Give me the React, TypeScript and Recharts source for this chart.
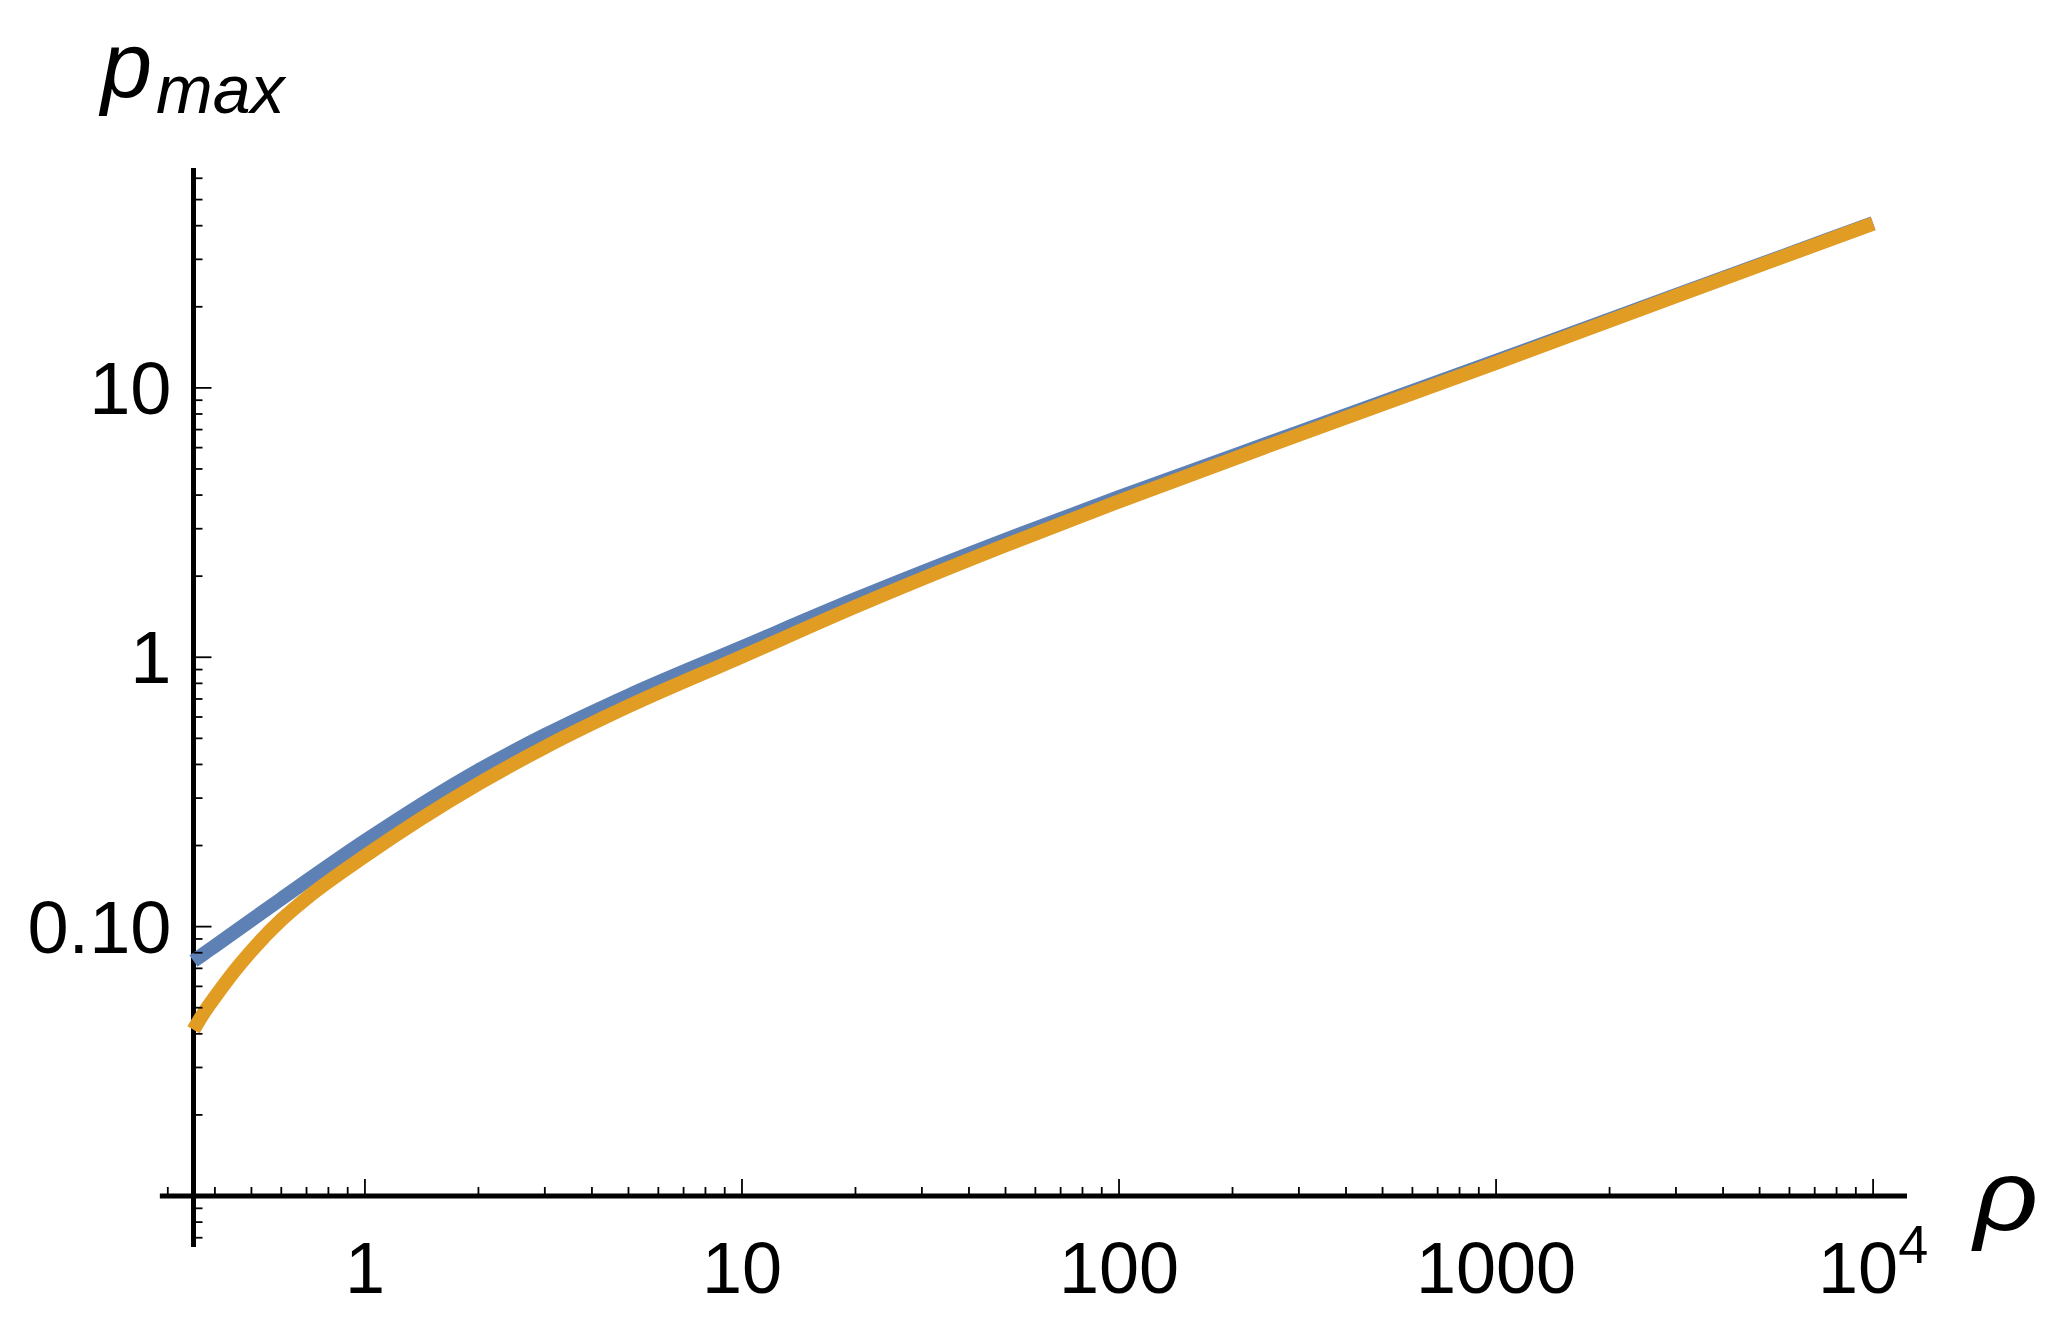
import { LineChart, Line, XAxis, YAxis, ReferenceLine } from "recharts";

// rho values (log axis) and the two p_max curves
const rhoValues = [0.351, 0.37, 0.4, 0.45, 0.5, 0.6, 0.7, 1, 2, 3, 5, 10, 20, 50, 100, 300, 1000, 3000, 10000];
const blueValues = [0.0745, 0.0785, 0.0848, 0.0953, 0.1058, 0.1268, 0.1476, 0.208, 0.3805, 0.514, 0.721, 1.09, 1.644, 2.73, 3.93, 6.85, 12.6, 22.1, 40.9];
const orangeValues = [0.0414, 0.0468, 0.0547, 0.0682, 0.0813, 0.1059, 0.1274, 0.1828, 0.339, 0.4634, 0.658, 1.006, 1.542, 2.606, 3.79, 6.7, 12.39, 21.9, 40.7];

// ticks
const xMajor = [1, 10, 100, 1000, 10000];
const xMinor = [0.3, 0.4, 0.5, 0.6, 0.7, 0.8, 0.9, 2, 3, 4, 5, 6, 7, 8, 9, 20, 30, 40, 50, 60, 70, 80, 90, 200, 300, 400, 500, 600, 700, 800, 900, 2000, 3000, 4000, 5000, 6000, 7000, 8000, 9000];
const yMajor = [0.1, 1, 10];
const yMinor = [0.007, 0.008, 0.009, 0.02, 0.03, 0.04, 0.05, 0.06, 0.07, 0.08, 0.09, 0.2, 0.3, 0.4, 0.5, 0.6, 0.7, 0.8, 0.9, 2, 3, 4, 5, 6, 7, 8, 9, 20, 30, 40, 50, 60];
const yLabels: Record<string, string> = { "0.1": "0.10", "1": "1", "10": "10" };

const X_MIN = 0.351;
const X_MAX = 12300;
const X_STUB = 0.2858;
const Y_MIN = 0.01;
const Y_MAX = 65.5;
const Y_STUB = 0.00647;

const FONT = "'Liberation Sans', Arial, sans-serif";

const data = rhoValues.map((rho, i) => ({
  rho,
  blue: blueValues[i],
  orange: orangeValues[i],
}));

function XTick(props: any) {
  const { x, y, payload } = props;
  const v = payload.value;
  const major = xMajor.includes(v);
  return (
    <g>
      <line x1={x} x2={x} y1={y} y2={y - (major ? 17 : 9)} stroke="#000" strokeWidth={1.8} />
      {major && (
        <text x={x} y={y + 97} textAnchor="middle" fontSize={72} fontFamily={FONT} fill="#000">
          {v === 10000 ? (
            <>
              10
              <tspan dy={-30} fontSize={54}>4</tspan>
            </>
          ) : (
            String(v)
          )}
        </text>
      )}
    </g>
  );
}

function YTick(props: any) {
  const { x, y, payload } = props;
  const v = payload.value;
  const major = yMajor.includes(v);
  return (
    <g>
      <line x1={x} x2={x + (major ? 18 : 9)} y1={y} y2={y} stroke="#000" strokeWidth={1.8} />
      {major && (
        <text x={x - 22} y={y} dy={26} textAnchor="end" fontSize={74} fontFamily={FONT} fill="#000">
          {yLabels[String(v)]}
        </text>
      )}
    </g>
  );
}

export default function App() {
  return (
    <div style={{ position: "absolute", left: 0, top: 0, width: 2062, height: 1332, background: "#fff" }}>
      <LineChart
        width={2062}
        height={1332}
        data={data}
        margin={{ top: 168, right: 155, bottom: 0, left: 0 }}
      >
        <XAxis
          dataKey="rho"
          type="number"
          scale="log"
          domain={[X_MIN, X_MAX]}
          ticks={[...xMinor, ...xMajor]}
          interval={0}
          axisLine={false}
          tickLine={false}
          tickSize={0}
          tickMargin={0}
          height={136}
          tick={(p: any) => <XTick {...p} />}
        />
        <YAxis
          type="number"
          scale="log"
          domain={[Y_MIN, Y_MAX]}
          ticks={[...yMinor, ...yMajor]}
          interval={0}
          axisLine={false}
          tickLine={false}
          tickSize={0}
          tickMargin={0}
          width={193.5}
          tick={(p: any) => <YTick {...p} />}
        />

        {/* axes, crossing at (X_MIN, 0.01) */}
        <ReferenceLine
          segment={[{ x: X_STUB, y: Y_MIN }, { x: X_MAX, y: Y_MIN }]}
          stroke="#000"
          strokeWidth={5}
          ifOverflow="visible"
        />
        <ReferenceLine
          segment={[{ x: X_MIN, y: Y_STUB }, { x: X_MIN, y: Y_MAX }]}
          stroke="#000"
          strokeWidth={5}
          ifOverflow="visible"
        />

        <Line
          dataKey="blue"
          type="monotone"
          stroke="#5e81b5"
          strokeWidth={14}
          strokeLinecap="butt"
          dot={false}
          isAnimationActive={false}
        />
        <Line
          dataKey="orange"
          type="monotone"
          stroke="#e19c24"
          strokeWidth={14}
          strokeLinecap="butt"
          dot={false}
          isAnimationActive={false}
        />
      </LineChart>

      {/* axis labels */}
      <svg
        width={2062}
        height={1332}
        style={{ position: "absolute", left: 0, top: 0, pointerEvents: "none" }}
      >
        <text x={101} y={97} fontSize={92} fontStyle="italic" fontFamily={FONT} fill="#000">
          p
        </text>
        <text x={156} y={113} fontSize={68} fontStyle="italic" fontFamily={FONT} fill="#000">
          max
        </text>
        <text
          transform="translate(1974,1230) scale(1.12,1)"
          fontSize={100}
          fontStyle="italic"
          fontFamily={FONT}
          fill="#000"
        >
          ρ
        </text>
      </svg>
    </div>
  );
}
